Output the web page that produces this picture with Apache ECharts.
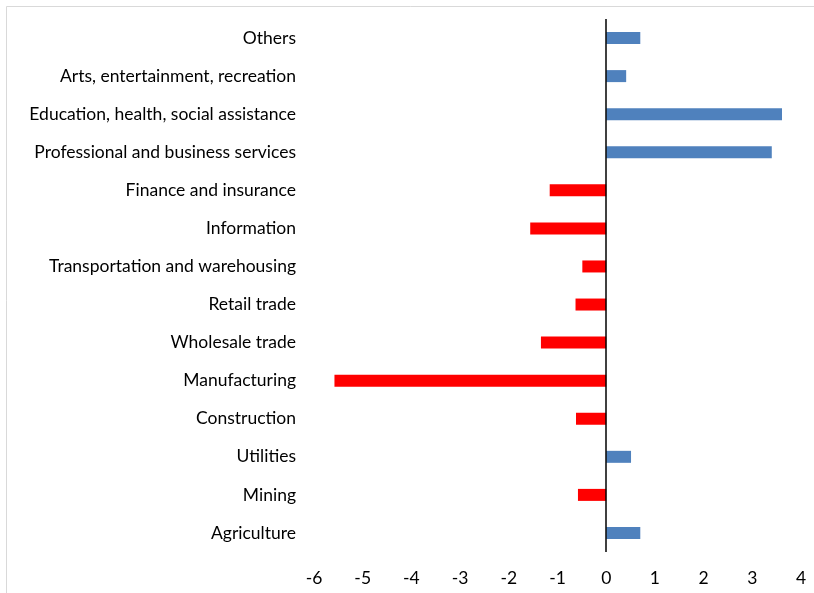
<!DOCTYPE html>
<html>
<head>
<meta charset="utf-8">
<script src="https://cdn.jsdelivr.net/npm/echarts@6/dist/echarts.min.js"></script>
<style>
  html, body { margin: 0; padding: 0; background: #fff; }
  #chart { width: 814px; height: 593px; }
</style>
</head>
<body>
<div id="chart"></div>
<script>
// Change by industry, listed bottom to top
const industries = [
  'Agriculture',
  'Mining',
  'Utilities',
  'Construction',
  'Manufacturing',
  'Wholesale trade',
  'Retail trade',
  'Transportation and warehousing',
  'Information',
  'Finance and insurance',
  'Professional and business services',
  'Education, health, social assistance',
  'Arts, entertainment, recreation',
  'Others'
];
const changes = [0.70, -0.58, 0.51, -0.62, -5.58, -1.34, -0.63, -0.49, -1.56, -1.16, 3.40, 3.61, 0.41, 0.70];
const xTicks = [-6, -5, -4, -3, -2, -1, 0, 1, 2, 3, 4];

const POS_COLOR = '#4f81bd';
const NEG_COLOR = '#ff0000';
const FONT = 'Lato, "Open Sans", sans-serif';

const chart = echarts.init(document.getElementById('chart'));
chart.setOption({
  animation: false,
  backgroundColor: '#fff',
  graphic: [{
    type: 'rect',
    shape: { x: 6.5, y: 6.5, width: 820, height: 600 },
    style: { fill: 'none', stroke: '#d9d9d9', lineWidth: 1 },
    silent: true
  }],
  grid: { left: 314, right: 13, top: 19, bottom: 41 },
  xAxis: {
    type: 'value',
    min: xTicks[0],
    max: xTicks[xTicks.length - 1],
    interval: 1,
    axisLine: { show: false },
    axisTick: { show: false },
    splitLine: { show: false },
    axisLabel: {
      margin: 17,
      color: '#000',
      fontFamily: FONT,
      fontSize: 17.5
    }
  },
  yAxis: {
    type: 'category',
    data: industries,
    axisLine: { show: false },
    axisTick: { show: false },
    axisLabel: {
      margin: 18,
      color: '#000',
      fontFamily: FONT,
      fontSize: 17.5
    }
  },
  series: [{
    type: 'bar',
    barWidth: 12,
    data: changes.map(v => ({
      value: v,
      itemStyle: { color: v < 0 ? NEG_COLOR : POS_COLOR }
    })),
    markLine: {
      silent: true,
      symbol: 'none',
      label: { show: false },
      lineStyle: { color: '#000', width: 1.5, type: 'solid' },
      data: [{ xAxis: 0 }]
    }
  }]
});
</script>
</body>
</html>
